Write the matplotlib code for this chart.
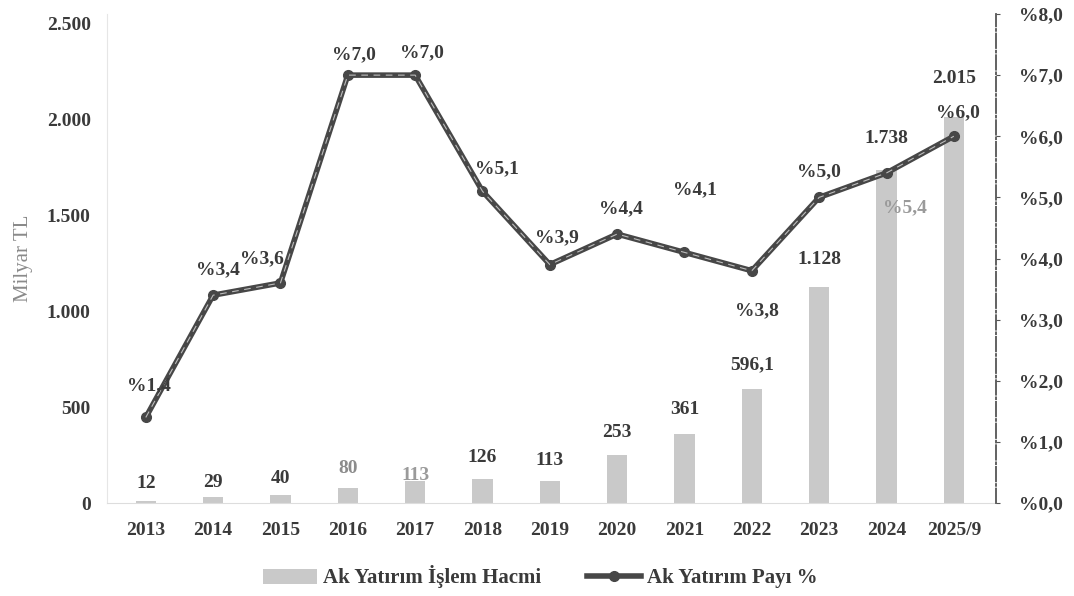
import matplotlib
matplotlib.use("Agg")
import matplotlib.pyplot as plt
from matplotlib.lines import Line2D
from matplotlib.patches import Patch

years = ["2013", "2014", "2015", "2016", "2017", "2018", "2019", "2020",
         "2021", "2022", "2023", "2024", "2025/9"]
volume = [12, 29, 40, 80, 113, 126, 113, 253, 361, 596.1, 1128, 1738, 2015]
volume_labels = ["12", "29", "40", "80", "113", "126", "113", "253", "361",
                 "596,1", "1.128", "1.738", "2.015"]
share = [1.4, 3.4, 3.6, 7.0, 7.0, 5.1, 3.9, 4.4, 4.1, 3.8, 5.0, 5.4, 6.0]
share_labels = ["%1,4", "%3,4", "%3,6", "%7,0", "%7,0", "%5,1", "%3,9", "%4,4",
                "%4,1", "%3,8", "%5,0", "%5,4", "%6,0"]
left_ticks = [0, 500, 1000, 1500, 2000, 2500]
left_tick_labels = ["0", "500", "1.000", "1.500", "2.000", "2.500"]
right_ticks = [0, 1, 2, 3, 4, 5, 6, 7, 8]
right_tick_labels = ["%0,0", "%1,0", "%2,0", "%3,0", "%4,0", "%5,0", "%6,0", "%7,0", "%8,0"]

FONT = "Liberation Serif"
TXT = "#3a3a3a"
plt.rcParams["font.family"] = [FONT, "DejaVu Serif"]

fig = plt.figure(figsize=(10.74, 5.96), dpi=100)
ax = fig.add_axes([0.1, 1 - 503 / 596, 0.827, (503 - 14) / 596])
ax2 = ax.twinx()

x = list(range(len(years)))
ax.bar(x, volume, width=0.3, color="#c9c9c9", zorder=2)
ax.set_xlim(-0.57, 12.62)
ax.set_ylim(0, 2500 * 489 / 479)
ax.set_yticks(left_ticks)
ax.set_yticklabels(left_tick_labels)
ax.set_xticks(x)
ax.set_xticklabels(years)
ax.tick_params(axis="both", length=0, labelsize=14, labelcolor=TXT)
ax.tick_params(axis="x", pad=14)
ax.tick_params(axis="y", pad=12)
for lab in ax.get_xticklabels() + ax.get_yticklabels():
    lab.set_fontweight("bold")
ax.set_ylabel("Milyar TL", fontsize=15, color="#8a8a8a", labelpad=10)
for s in ["top", "right"]:
    ax.spines[s].set_visible(False)
ax.spines["left"].set_color("#e6e6e6")
ax.spines["bottom"].set_color("#dddddd")

# bar labels
bar_off = [17, 15, 17, 19, 6, 21, 21, 22, 24, 24, 27, 31, 38]
bar_col = [TXT, TXT, TXT, "#8c8c8c", "#9a9a9a", TXT, TXT, TXT, TXT, TXT, TXT, TXT, TXT]
for i, (v, lab) in enumerate(zip(volume, volume_labels)):
    ax.annotate(lab, (i, v), xytext=(0, bar_off[i] * 0.72), textcoords="offset points",
                ha="center", va="center", fontsize=14, fontweight="bold",
                color=bar_col[i], zorder=5)

# line
ax2.plot(x, share, color="#474747", linewidth=4, marker="o", markersize=7,
         zorder=4, solid_capstyle="round")
ax2.plot(x, share, color="#bdbdbd", linewidth=0.8, linestyle=(0, (6, 5)), zorder=5)
ax2.set_ylim(0, 8)
ax2.set_yticks(right_ticks)
ax2.set_yticklabels(right_tick_labels)
ax2.tick_params(axis="y", length=3, direction="out", color="#555555",
                labelsize=14, labelcolor=TXT, pad=14)
for lab in ax2.get_yticklabels():
    lab.set_fontweight("bold")
for s in ["top", "left", "bottom"]:
    ax2.spines[s].set_visible(False)
ax2.spines["right"].set_color("#555555")
ax2.spines["right"].set_linestyle((0, (8, 1.5, 1, 1.5)))
ax2.spines["right"].set_linewidth(1.3)

line_off = [(3, 32), (5, 25), (-19, 24), (6, 20), (7, 22), (14, 23), (7, 27),
            (4, 25), (10, 63), (5, -40), (0, 26), (18, -35), (4, 24)]
line_col = [TXT] * 13
line_col[11] = "#9a9a9a"
for i, (v, lab) in enumerate(zip(share, share_labels)):
    dx, dy = line_off[i]
    ax2.annotate(lab, (i, v), xytext=(dx * 0.72, dy * 0.72), textcoords="offset points",
                 ha="center", va="center", fontsize=14, fontweight="bold",
                 color=line_col[i], zorder=6)

handles = [Patch(facecolor="#c9c9c9", edgecolor="none"),
           Line2D([0], [0], color="#474747", linewidth=4, marker="o", markersize=7)]
fig.legend(handles, ["Ak Yatırım İşlem Hacmi", "Ak Yatırım Payı %"],
           loc="center", bbox_to_anchor=(0.503, 1 - 577 / 596), ncol=2, frameon=False,
           prop={"family": FONT, "size": 15, "weight": "bold"}, labelcolor=TXT,
           handlelength=2.6, columnspacing=2.2, handletextpad=0.3)

fig.savefig("out.png", dpi=100)
